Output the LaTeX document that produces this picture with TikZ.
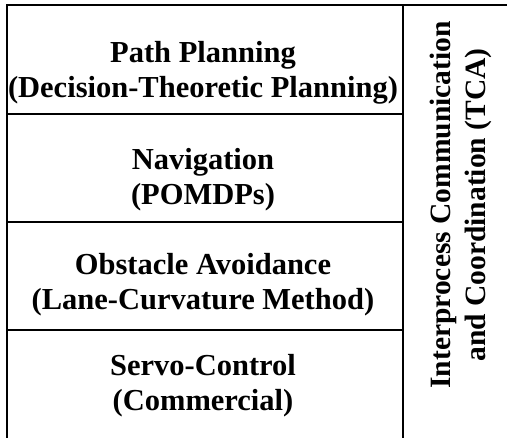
\documentclass[tikz,border=0pt]{standalone}
\usepackage{fontspec}
\setmainfont{Liberation Serif}
\begin{document}
\begin{tikzpicture}[x=1pt,y=1pt,
  grid/.style={line width=2pt},
  lbl/.style={font=\bfseries\fontsize{30.5}{35}\selectfont, anchor=base, inner sep=0pt},
  vlbl/.style={font=\bfseries\fontsize{29.5}{35}\selectfont, anchor=base, inner sep=0pt, rotate=90}]
\useasboundingbox (0,0) rectangle (507,-438);
\begin{scope}
\clip (0,0) rectangle (507,-438);
% grid
\coordinate (tl) at (6.5,-5.5);
\coordinate (tr) at (510,-5.5);
\coordinate (bl) at (6.5,-445);
\coordinate (mt) at (403,-5.5);
\coordinate (mb) at (403,-445);
\draw[grid] (tr) -- (tl) -- (bl);
\draw[grid] (mt) -- (mb);
\coordinate (s1l) at (6.5,-114); \coordinate (s1r) at (403,-114);
\coordinate (s2l) at (6.5,-222); \coordinate (s2r) at (403,-222);
\coordinate (s3l) at (6.5,-330); \coordinate (s3r) at (403,-330);
\draw[grid] (s1l) -- (s1r);
\draw[grid] (s2l) -- (s2r);
\draw[grid] (s3l) -- (s3r);
\end{scope}
% rows
\node[lbl] (pp1) at (203,-63) {Path Planning};
\node[lbl] (pp2) at (203,-98) {(Decision-Theoretic Planning)};
\node[lbl] (nv1) at (203,-170) {Navigation};
\node[lbl] (nv2) at (203,-205) {(POMDPs)};
\node[lbl] (oa1) at (203,-275) {Obstacle Avoidance};
\node[lbl] (oa2) at (203,-310) {(Lane-Curvature Method)};
\node[lbl] (sc1) at (203,-376) {Servo-Control};
\node[lbl] (sc2) at (203,-411) {(Commercial)};
% vertical
\node[vlbl] (tca1) at (450,-205) {Interprocess Communication};
\node[vlbl] (tca2) at (485,-205) {and Coordination (TCA)};
\end{tikzpicture}
\end{document}
